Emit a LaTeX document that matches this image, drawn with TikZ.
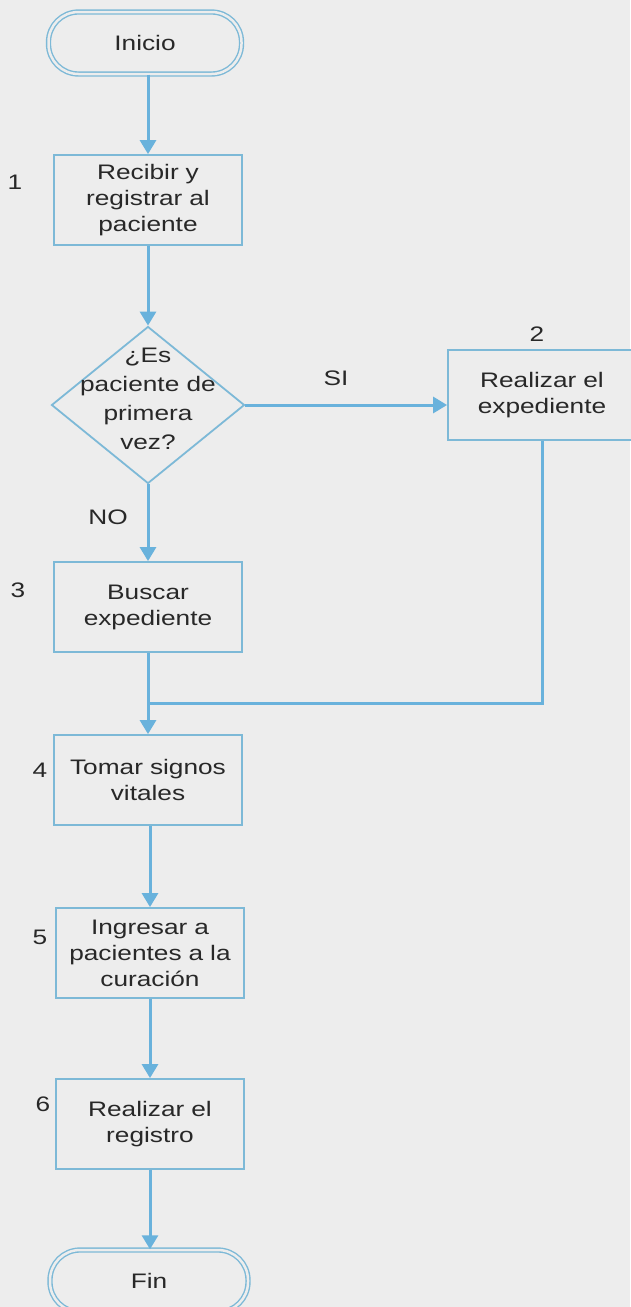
\documentclass[tikz,border=0pt]{standalone}
\usepackage{fontspec}
\setmainfont{Liberation Sans}[FakeStretch=1.25]
\usetikzlibrary{arrows.meta,shapes.geometric}
\definecolor{bgc}{RGB}{237,237,237}
\definecolor{linec}{RGB}{105,178,220}
\definecolor{boxc}{RGB}{125,185,215}
\definecolor{txtc}{RGB}{40,40,40}
\begin{document}
\begin{tikzpicture}[x=1pt,y=-1pt, font=\fontsize{21}{26}\selectfont, text=txtc,
 stepbox/.style={draw=boxc, line width=1.8pt, fill=bgc, minimum width=188pt, minimum height=90pt, inner sep=0pt, text width=184pt, align=center},
 term/.style={draw=boxc, line width=1.4pt, double=bgc, double distance=2.5pt, rounded corners=30pt, minimum width=193pt, minimum height=62pt, inner sep=0pt},
 decbox/.style={draw=boxc, line width=1.8pt, fill=bgc, shape=diamond, minimum width=193pt, minimum height=157pt, inner sep=0pt},
 conn/.style={draw=linec, line width=3pt},
 arr/.style={conn, -{Triangle[width=16pt,length=14pt]}},
 numlab/.style={inner sep=0pt}]
\fill[bgc] (0,0) rectangle (630,1307);
\useasboundingbox (0,0) rectangle (630,1307);

\node[term] (ini) at (145,43) {Inicio};
\node[stepbox] (b1) at (148,200) {Recibir y\\registrar al\\paciente};
\node[decbox] (dec) at (148,405) {};
\node[align=center, font=\fontsize{21}{29}\selectfont] (dect) at (148,399) {¿Es\\paciente de\\primera\\vez?};
\node[stepbox] (b2) at (542,395) {Realizar el\\expediente};
\node[stepbox] (b3) at (148,607) {Buscar\\expediente};
\node[stepbox] (b4) at (148,780) {Tomar signos\\vitales};
\node[stepbox] (b5) at (150,953) {Ingresar a\\pacientes a la\\curación};
\node[stepbox] (b6) at (150,1124) {Realizar el\\registro};
\node[term, minimum width=198pt] (fin) at (149,1281) {Fin};

\node[numlab] (n1) at (15,182) {1};
\node[numlab] (n2) at (537,334) {2};
\node[numlab] (n3) at (18,590) {3};
\node[numlab] (n4) at (40,770) {4};
\node[numlab] (n5) at (40,937) {5};
\node[numlab] (n6) at (43,1104) {6};
\node[numlab] (si) at (336,378) {SI};
\node[numlab] (no) at (108,517) {NO};

\coordinate (j) at (148,703);
\draw[arr] (b1.north |- ini.south) -- (b1.north);
\draw[arr] (b1) -- (dec);
\draw[arr] (dec.east) -- (b2.west |- dec.east);
\draw[arr] (dec) -- (b3);
\draw[conn] (b2.south) |- (j);
\draw[arr] (b3) -- (j) -- (b4);
\draw[arr] (b5.north |- b4.south) -- (b5.north);
\draw[arr] (b5) -- (b6);
\draw[arr] (b6.south) -- (b6.south |- fin.north);
\end{tikzpicture}
\end{document}
